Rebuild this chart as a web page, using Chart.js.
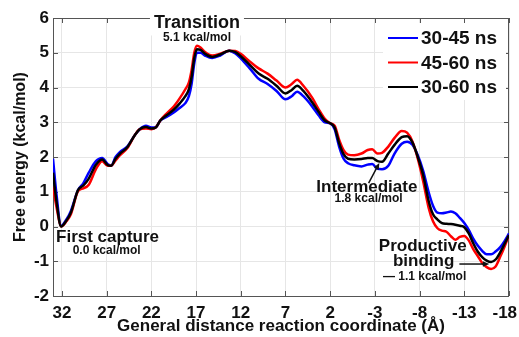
<!DOCTYPE html>
<html>
<head>
<meta charset="utf-8">
<script src="https://cdn.jsdelivr.net/npm/chart.js@4.4.0/dist/chart.umd.min.js"></script>
<style>
  body { margin: 0; background: #fff; }
  #chart { display: block; }
</style>
</head>
<body>
<canvas id="chart" width="519" height="337"></canvas>
<script>
// Reaction coordinate (Å), shared by all three profiles
const coord = [33, 32.6, 32.1, 31.5, 31, 30.2, 29.6, 29, 28.2, 27.5, 26.9, 26.5, 26, 25.5, 24.7, 23.8, 23.3, 22.6, 22, 21.5,
  21, 20.3, 19.5, 18.8, 18.2, 17.8, 17.5, 17.2, 16.9, 16.5, 16, 15.2, 14.3, 13.3, 12.6, 12, 11, 10, 9, 8,
  7, 6.3, 5.7, 5, 4, 3.3, 2.6, 2, 1.5, 1, 0.5, 0, -0.7, -1.5, -2.2, -2.7, -3.3, -3.8, -4.5, -5.2,
  -6, -6.6, -7.2, -7.8, -8.4, -9, -9.5, -10, -10.5, -11, -11.5, -12, -12.5, -13, -13.5, -14, -14.5, -15, -15.5, -16,
  -16.5, -17, -17.5, -18];

// Free energy (kcal/mol)
const fe3045 = [1.95, 0.9, 0.02, 0.2, 0.45, 1.05, 1.25, 1.55, 1.88, 1.97, 1.8, 1.75, 2.0, 2.15, 2.3, 2.65, 2.8, 2.9, 2.85, 2.86,
  3.05, 3.15, 3.28, 3.42, 3.55, 3.75, 4.1, 4.7, 5.0, 5.0, 4.92, 4.85, 4.92, 5.06, 4.98, 4.84, 4.55, 4.25, 4.1, 3.9,
  3.66, 3.75, 3.88, 3.75, 3.45, 3.2, 3.0, 2.97, 2.8, 2.3, 1.95, 1.82, 1.76, 1.73, 1.78, 1.8, 1.66, 1.65, 1.75, 2.1,
  2.38, 2.44, 2.35, 2.05, 1.6, 1.0, 0.6, 0.4, 0.38, 0.4, 0.43, 0.38, 0.25, 0.1, -0.1, -0.35, -0.55, -0.7, -0.8, -0.8,
  -0.72, -0.6, -0.42, -0.2];
const fe4560 = [1.15, 0.55, 0.0, 0.15, 0.35, 1.02, 1.1, 1.2, 1.65, 1.88, 1.75, 1.75, 1.9, 2.05, 2.25, 2.65, 2.8, 2.82, 2.8, 2.85,
  3.05, 3.25, 3.45, 3.7, 3.95, 4.15, 4.5, 5.0, 5.2, 5.15, 5.02, 4.92, 4.97, 5.06, 5.05, 4.97, 4.75, 4.55, 4.4, 4.2,
  4.0, 4.1, 4.22, 4.05, 3.7, 3.38, 3.1, 2.97, 2.9, 2.5, 2.2, 2.07, 2.05, 2.1, 2.2, 2.22, 2.1, 2.12, 2.3, 2.55,
  2.75, 2.7, 2.45, 1.95, 1.3, 0.55, 0.15, -0.05, -0.12, -0.15, -0.28, -0.38, -0.3, -0.27, -0.4, -0.65, -0.85, -1.05, -1.17, -1.22,
  -1.15, -0.88, -0.58, -0.25];
const fe3060 = [1.55, 0.7, 0.0, 0.17, 0.4, 1.05, 1.18, 1.38, 1.78, 1.93, 1.77, 1.75, 1.95, 2.1, 2.28, 2.65, 2.8, 2.86, 2.82, 2.85,
  3.05, 3.2, 3.36, 3.55, 3.75, 3.95, 4.3, 4.85, 5.1, 5.08, 4.97, 4.88, 4.95, 5.06, 5.02, 4.9, 4.65, 4.4, 4.25, 4.05,
  3.83, 3.93, 4.05, 3.9, 3.57, 3.3, 3.05, 2.97, 2.85, 2.4, 2.08, 1.95, 1.93, 1.94, 1.97, 1.97, 1.88, 1.86, 2.1, 2.35,
  2.57, 2.6, 2.42, 2.0, 1.48, 0.75, 0.35, 0.2, 0.1, 0.08, 0.07, 0.05, 0.02, -0.02, -0.2, -0.48, -0.72, -0.88, -0.98, -1.02,
  -0.95, -0.75, -0.5, -0.25];

const seriesLabels = ['30-45 ns', '45-60 ns', '30-60 ns'];
const seriesColors = ['#0000ff', '#ff0000', '#000000'];
const xTicks = [32, 27, 22, 17, 12, 7, 2, -3, -8, -13, -18];
const yTicks = [-2, -1, 0, 1, 2, 3, 4, 5, 6];

const FONT = "'Liberation Sans', Arial, Helvetica, sans-serif";

function toPoints(ys) {
    return coord.map((x, i) => ({ x: x, y: ys[i] }));
}

// Text labels (data coordinates); the top one sits on a white box
const notes = [
    { x: 16.9, y: 5.86, text: 'Transition', size: 18, box: true },
    { x: 16.9, y: 5.42, text: '5.1 kcal/mol', size: 12, box: true },
    { x: 26.9, y: -0.30, text: 'First capture', size: 17 },
    { x: 27.0, y: -0.70, text: '0.0 kcal/mol', size: 12 },
    { x: -2.1, y: 1.14, text: 'Intermediate', size: 17 },
    { x: -2.3, y: 0.79, text: '1.8 kcal/mol', size: 12 },
    { x: -8.35, y: -0.56, text: 'Productive', size: 17 },
    { x: -8.45, y: -0.99, text: 'binding', size: 17 },
    { x: -8.56, y: -1.45, text: '\u2014 1.1 kcal/mol', size: 12 }
];
const arrows = [
    { x1: -2.3, y1: 1.25, x2: -3.5, y2: 1.83 },
    { x1: -12.45, y1: -1.08, x2: -15.8, y2: -1.08 }
];

function drawArrow(ctx, x1, y1, x2, y2) {
    const a = Math.atan2(y2 - y1, x2 - x1);
    const head = 7;
    ctx.beginPath();
    ctx.moveTo(x1, y1);
    ctx.lineTo(x2 - Math.cos(a) * head * 0.8, y2 - Math.sin(a) * head * 0.8);
    ctx.stroke();
    ctx.beginPath();
    ctx.moveTo(x2, y2);
    ctx.lineTo(x2 - head * Math.cos(a - 0.4), y2 - head * Math.sin(a - 0.4));
    ctx.lineTo(x2 - head * Math.cos(a + 0.4), y2 - head * Math.sin(a + 0.4));
    ctx.closePath();
    ctx.fill();
}

// Frame, inward tick marks and annotations (drawn under the curves)
const framePlugin = {
    id: 'frame',
    beforeDatasetsDraw(chart) {
        const { ctx, chartArea: a, scales } = chart;
        ctx.save();
        ctx.strokeStyle = '#555';
        ctx.lineWidth = 1;
        ctx.beginPath();
        xTicks.forEach(v => {
            const px = Math.round(scales.x.getPixelForValue(v)) + 0.5;
            ctx.moveTo(px, a.bottom); ctx.lineTo(px, a.bottom - 5);
            ctx.moveTo(px, a.top); ctx.lineTo(px, a.top + 5);
        });
        yTicks.forEach(v => {
            const py = Math.round(scales.y.getPixelForValue(v)) + 0.5;
            ctx.moveTo(a.left, py); ctx.lineTo(a.left + 5, py);
            ctx.moveTo(a.right, py); ctx.lineTo(a.right - 5, py);
        });
        ctx.stroke();
        ctx.strokeRect(Math.round(a.left) + 0.5, Math.round(a.top) + 0.5,
            Math.round(a.right - a.left) - 1, Math.round(a.bottom - a.top));

        ctx.textAlign = 'center';
        ctx.textBaseline = 'middle';
        notes.forEach(n => {
            ctx.font = 'bold ' + n.size + 'px ' + FONT;
            const px = scales.x.getPixelForValue(n.x);
            const py = scales.y.getPixelForValue(n.y);
            if (n.box) {
                const w = ctx.measureText(n.text).width + 8;
                ctx.fillStyle = '#fff';
                ctx.fillRect(px - w / 2, py - n.size * 0.7, w, n.size * 1.4);
            }
        });
        notes.forEach(n => {
            ctx.font = 'bold ' + n.size + 'px ' + FONT;
            ctx.fillStyle = '#111';
            ctx.fillText(n.text, scales.x.getPixelForValue(n.x), scales.y.getPixelForValue(n.y));
        });
        ctx.restore();
    },
    afterDatasetsDraw(chart) {
        const { ctx, scales } = chart;
        ctx.save();
        ctx.strokeStyle = '#111';
        ctx.fillStyle = '#111';
        ctx.lineWidth = 1.5;
        arrows.forEach(ar => {
            drawArrow(ctx,
                scales.x.getPixelForValue(ar.x1), scales.y.getPixelForValue(ar.y1),
                scales.x.getPixelForValue(ar.x2), scales.y.getPixelForValue(ar.y2));
        });

        // Legend box in the upper right corner
        ctx.fillStyle = '#fff';
        ctx.fillRect(383, 23, 123, 77);
        ctx.font = 'bold 19px ' + FONT;
        ctx.textAlign = 'left';
        ctx.textBaseline = 'middle';
        seriesLabels.forEach((label, i) => {
            const y = 38 + i * 24.5;
            ctx.strokeStyle = seriesColors[i];
            ctx.lineWidth = 2;
            ctx.beginPath();
            ctx.moveTo(388, y);
            ctx.lineTo(418, y);
            ctx.stroke();
            ctx.fillStyle = '#111';
            ctx.fillText(label, 421, y + 1);
        });
        ctx.restore();
    }
};

const tickFont = { family: FONT, size: 17, weight: 'bold' };

new Chart(document.getElementById('chart'), {
    type: 'line',
    data: {
        datasets: [fe3045, fe4560, fe3060].map((ys, i) => ({
            label: seriesLabels[i],
            data: toPoints(ys),
            borderColor: seriesColors[i],
            borderWidth: 2.5,
            pointRadius: 0,
            fill: false,
            cubicInterpolationMode: 'monotone',
            order: 3 - i
        }))
    },
    options: {
        responsive: false,
        animation: false,
        devicePixelRatio: 1,
        layout: { padding: { top: 18, right: 10, left: 0, bottom: 0 } },
        plugins: {
            legend: { display: false },
            tooltip: { enabled: false }
        },
        scales: {
            x: {
                type: 'linear',
                reverse: true,
                min: -18,
                max: 33,
                afterBuildTicks: s => { s.ticks = xTicks.map(v => ({ value: v })); },
                afterFit: s => { s.height = 41; s.paddingLeft = 0; s.paddingRight = 0; },
                grid: { color: '#e6e6e6', drawTicks: false },
                border: { display: false },
                ticks: {
                    padding: 7,
                    color: '#111',
                    font: tickFont,
                    // nudge the last label left so it stays inside the canvas
                    callback: v => v === -18 ? String(v) + '\u2002' : String(v)
                },
                title: {
                    display: true,
                    text: 'General distance reaction coordinate (\u00c5)',
                    color: '#111',
                    font: { family: FONT, size: 17, weight: 'bold' },
                    padding: { top: 0, bottom: 0 }
                }
            },
            y: {
                min: -2,
                max: 6,
                afterBuildTicks: s => { s.ticks = yTicks.map(v => ({ value: v })); },
                afterFit: s => { s.width = 53; },
                grid: { color: '#e6e6e6', drawTicks: false },
                border: { display: false },
                ticks: { padding: 4, color: '#111', font: tickFont, callback: v => String(v) },
                title: {
                    display: true,
                    text: 'Free energy (kcal/mol)',
                    color: '#111',
                    font: { family: FONT, size: 16, weight: 'bold' },
                    padding: { top: 11, bottom: 0 }
                }
            }
        }
    },
    plugins: [framePlugin]
});
</script>
</body>
</html>
